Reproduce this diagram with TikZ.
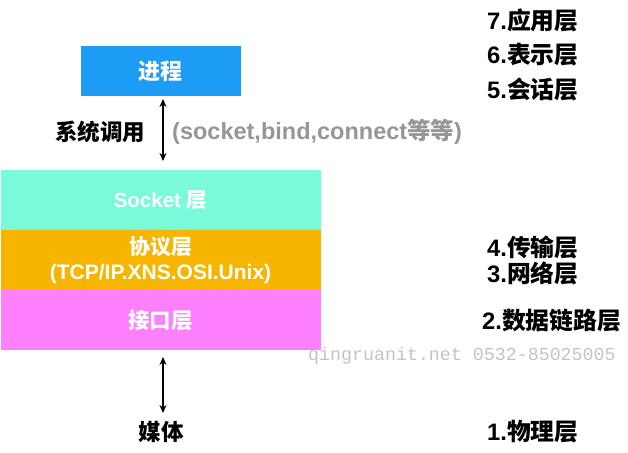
\documentclass[tikz,border=0pt]{standalone}
\usepackage{fontspec}
\setmainfont{Liberation Sans}
\setmonofont{Liberation Mono}
\newfontfamily\cjk{Noto Sans CJK SC}
\usetikzlibrary{arrows.meta}
\definecolor{procblue}{RGB}{28,156,245}
\definecolor{mint}{RGB}{122,250,216}
\definecolor{orangey}{RGB}{247,181,0}
\definecolor{pinky}{RGB}{255,128,255}
\definecolor{grayt}{RGB}{150,150,150}
\definecolor{wmark}{RGB}{195,195,195}
\newcommand\zh[1]{{\cjk\bfseries #1}}
\begin{document}
\begin{tikzpicture}[x=1pt,y=-1pt,
  layer/.style={minimum width=320pt,minimum height=60pt,inner sep=0pt,outer sep=0pt,text=white,align=center,font=\bfseries\fontsize{21}{23}\selectfont},
  osi/.style={anchor=west,font=\bfseries\fontsize{23.8}{25}\selectfont,inner sep=0pt},
  lbl/.style={font=\bfseries\fontsize{22.5}{24}\selectfont,inner sep=0pt},
  dbl/.style={{Stealth[length=8pt,width=7pt]}-{Stealth[length=8pt,width=7pt]},line width=1.3pt}]
\useasboundingbox (0,0) rectangle (628,452);
% boxes
\node[layer,fill=procblue,minimum width=160pt,minimum height=50pt,font=\bfseries\fontsize{22}{24}\selectfont] (proc) at (160.5,71) {\zh{进程}};
\node[layer,fill=mint,font=\bfseries\fontsize{20.5}{22}\selectfont] (sock) at (160.5,200) {Socket \zh{层}};
\node[layer,fill=orangey,font=\bfseries\fontsize{21}{25}\selectfont] (proto) at (160.5,260) {\zh{协议层}\\(TCP/IP.XNS.OSI.Unix)};
\node[layer,fill=pinky,font=\bfseries\fontsize{21.5}{23}\selectfont] (iface) at (160.5,320) {\zh{接口层}};
% labels
\node[lbl] (sys) at (100,132) {\zh{系统调用}};
\node[lbl,anchor=west,text=grayt,font=\bfseries\fontsize{23.5}{25}\selectfont] (calls) at (172,132) {(socket,bind,connect\zh{等等})};
\node[lbl,font=\bfseries\fontsize{22.5}{25}\selectfont] (media) at (161,432) {\zh{媒体}};
% arrows
\coordinate (a1t) at (163,99);
\coordinate (a1b) at (163,161);
\coordinate (a2t) at (163,357);
\coordinate (a2b) at (163,413);
\draw[dbl] (a1t) -- (a1b);
\draw[dbl] (a2t) -- (a2b);
% OSI layers
\node[osi] (l7) at (487,20) {7.\zh{应用层}};
\node[osi] (l6) at (487,55) {6.\zh{表示层}};
\node[osi] (l5) at (487,90) {5.\zh{会话层}};
\node[osi] (l4) at (487,247) {4.\zh{传输层}};
\node[osi] (l3) at (487,273) {3.\zh{网络层}};
\node[osi] (l2) at (482,321) {2.\zh{数据链路层}};
\node[osi] (l1) at (487,432) {1.\zh{物理层}};
% watermark
\node[anchor=west,inner sep=0pt,text=wmark,font=\ttfamily\fontsize{18.3}{20}\selectfont] (wm) at (308,356) {qingruanit.net 0532-85025005};
\end{tikzpicture}
\end{document}
